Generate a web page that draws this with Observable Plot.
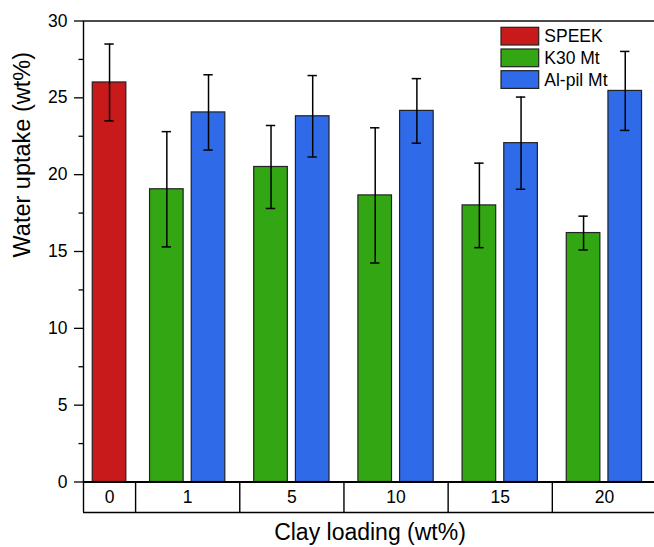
<!DOCTYPE html>
<html>
<head>
<meta charset="utf-8">
<script src="https://cdn.jsdelivr.net/npm/d3@7"></script>
<script src="https://cdn.jsdelivr.net/npm/@observablehq/plot@0.6"></script>
<style>
  html, body { margin: 0; padding: 0; background: white; overflow: hidden; }
</style>
</head>
<body>
<div id="chart"></div>
<script>
// ---- Data ----
const categories = ["0", "1", "5", "10", "15", "20"];
const seriesNames = ["SPEEK", "K30 Mt", "Al-pil Mt"];
const speekValues = [26.0];
const speekErrors = [2.5];
const k30Values = [19.05, 20.5, 18.65, 18.0, 16.2];
const k30Errors = [3.75, 2.7, 4.4, 2.75, 1.1];
const alpilValues = [24.05, 23.8, 24.15, 22.05, 25.45];
const alpilErrors = [2.45, 2.65, 2.1, 3.0, 2.57];
const yTicks = [0, 5, 10, 15, 20, 25, 30];
const yMinorTicks = [2.5, 7.5, 12.5, 17.5, 22.5, 27.5];
const colors = ["#c8191b", "#33a613", "#2f6ae9"];

// ---- Layout constants ----
const barHalf = 0.3225;   // half bar width in slot units
const pairOffset = 0.4;   // offset of paired bars from group centre
const capHalf = 0.09;     // half width of error caps
const boxDepth = -1.98;   // depth of category row below baseline (y units)

// ---- Build tables ----
const rows = [];
const groups = [];
const boundaries = [];
let pos = 0;
categories.forEach((c, i) => {
  const members = i === 0
    ? [{s: 0, v: speekValues[0], e: speekErrors[0]}]
    : [{s: 1, v: k30Values[i - 1], e: k30Errors[i - 1]},
       {s: 2, v: alpilValues[i - 1], e: alpilErrors[i - 1]}];
  const w = members.length === 1 ? 1 : 2;
  const center = pos + w / 2;
  members.forEach((m, j) => {
    const off = members.length === 1 ? 0 : (j === 0 ? -pairOffset : pairOffset);
    rows.push({cat: c, series: seriesNames[m.s], x: center + off, value: m.v, err: m.e});
  });
  groups.push({cat: c, xc: center});
  boundaries.push(pos);
  pos += w;
});
boundaries.push(pos);

const font = "'Liberation Sans', Arial, Helvetica, sans-serif";

const svg = Plot.plot({
  width: 654,
  height: 547,
  marginLeft: 83,
  marginRight: -2,
  marginTop: 20.5,
  marginBottom: 65.5,
  x: {domain: [0, pos], axis: null},
  y: {domain: [0, 30], axis: null},
  color: {domain: seriesNames, range: colors},
  style: {fontFamily: font, background: "white", color: "black"},
  marks: [
    Plot.rect(rows, {
      x1: d => d.x - barHalf, x2: d => d.x + barHalf,
      y1: 0, y2: "value",
      fill: "series", stroke: "#222", strokeWidth: 1.2
    }),
    Plot.ruleX(rows, {x: "x", y1: d => d.value - d.err, y2: d => d.value + d.err, stroke: "black", strokeWidth: 1.5}),
    Plot.ruleY(rows, {y: d => d.value + d.err, x1: d => d.x - capHalf, x2: d => d.x + capHalf, stroke: "black", strokeWidth: 1.5}),
    Plot.ruleY(rows, {y: d => d.value - d.err, x1: d => d.x - capHalf, x2: d => d.x + capHalf, stroke: "black", strokeWidth: 1.5}),
    Plot.frame({stroke: "black", strokeWidth: 1.4}),
    Plot.ruleY([0], {stroke: "black", strokeWidth: 2}),
    Plot.axisY(yTicks, {tickSize: 9, tickPadding: 7, fontSize: 17.5, label: null, strokeWidth: 1.3}),
    Plot.axisY(yMinorTicks, {tickSize: 4.5, text: null, label: null, strokeWidth: 1.3}),
    // category table row
    Plot.ruleX(boundaries, {x: d => d, y1: 0, y2: boxDepth, stroke: "black", strokeWidth: 1.4}),
    Plot.ruleY([boxDepth], {stroke: "black", strokeWidth: 1.4}),
    Plot.text(groups, {x: "xc", y: boxDepth / 2, text: "cat", fontSize: 17.5, fill: "black"}),
    // axis titles
    Plot.text(["Water uptake (wt%)"], {text: d => d, frameAnchor: "left", dx: -61, dy: 6, rotate: -90, fontSize: 23.5, fill: "black"}),
    Plot.text(["Clay loading (wt%)"], {text: d => d, frameAnchor: "bottom", dy: 58, fontSize: 23, fill: "black"})
  ]
});

// ---- Legend (inside plot, top right) ----
const legend = d3.select(svg).append("g")
  .style("font-family", font)
  .style("font-size", "17.5px")
  .attr("text-anchor", "start");
const legX = 501, legY = 27.3, swW = 37.7, swH = 17.7, pitch = 21.7;
seriesNames.forEach((name, i) => {
  legend.append("rect")
    .attr("x", legX).attr("y", legY + i * pitch)
    .attr("width", swW).attr("height", swH)
    .attr("fill", colors[i]).attr("stroke", "#222").attr("stroke-width", 1.2);
  legend.append("text")
    .attr("x", legX + swW + 5.6).attr("y", legY + i * pitch + swH / 2 + 6.3)
    .attr("text-anchor", "start")
    .attr("fill", "black")
    .text(name);
});

document.getElementById("chart").appendChild(svg);
</script>
</body>
</html>
